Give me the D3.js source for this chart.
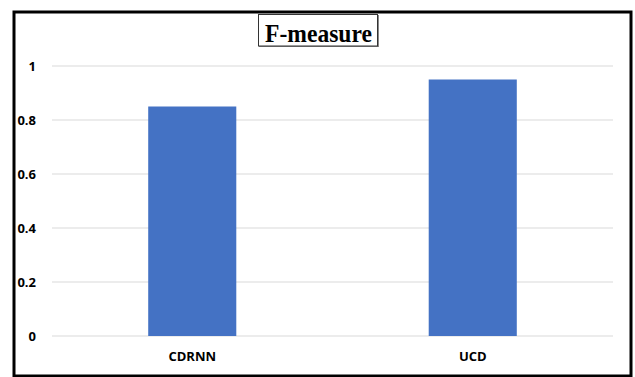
<!DOCTYPE html>
<html>
<head>
<meta charset="utf-8">
<script src="https://cdn.jsdelivr.net/npm/d3@7"></script>
<style>
  html, body { margin: 0; padding: 0; background: #fff; }
  svg { display: block; }
</style>
</head>
<body>
<svg id="chart" width="635" height="377"></svg>
<script>
// Chart data
const categories = ["CDRNN", "UCD"];
const values = [0.85, 0.95];
const yTicks = [0, 0.2, 0.4, 0.6, 0.8, 1];
const yTickLabels = ["0", "0.2", "0.4", "0.6", "0.8", "1"];
const title = "F-measure";

const svg = d3.select("#chart");

// Outer frame
svg.append("rect")
  .attr("x", 14).attr("y", 12)
  .attr("width", 617).attr("height", 364)
  .attr("fill", "#fff")
  .attr("stroke", "#000")
  .attr("stroke-width", 3);

const plot = { left: 52, right: 613, top: 66, bottom: 336 };

const x = d3.scaleBand()
  .domain(categories)
  .range([plot.left, plot.right])
  .paddingInner(0.686)
  .paddingOuter(0.343);

const y = d3.scaleLinear()
  .domain([0, 1])
  .range([plot.bottom, plot.top]);

// Horizontal gridlines
svg.append("g")
  .selectAll("line")
  .data(yTicks)
  .join("line")
  .attr("x1", plot.left).attr("x2", plot.right)
  .attr("y1", d => y(d)).attr("y2", d => y(d))
  .attr("stroke", "#d9d9d9")
  .attr("stroke-width", 1);

const labelFont = "'Open Sans', 'Liberation Sans', sans-serif";

// Y tick labels
const yAxis = d3.axisLeft(y)
  .tickValues(yTicks)
  .tickFormat((d, i) => yTickLabels[i])
  .tickSize(0)
  .tickPadding(0);
const gy = svg.append("g")
  .attr("transform", "translate(36,0)")
  .call(yAxis);
gy.select(".domain").remove();
gy.selectAll("text")
  .attr("font-family", labelFont)
  .attr("font-weight", "bold")
  .attr("font-size", "13px")
  .attr("fill", "#000");

// Bars
svg.append("g")
  .selectAll("rect")
  .data(categories.map((c, i) => ({ c, v: values[i] })))
  .join("rect")
  .attr("x", d => x(d.c))
  .attr("y", d => y(d.v))
  .attr("width", x.bandwidth())
  .attr("height", d => y(0) - y(d.v))
  .attr("fill", "#4472c4");

// X category labels
const xAxis = d3.axisBottom(x).tickSize(0).tickPadding(0);
const gx = svg.append("g")
  .attr("transform", "translate(0,361)")
  .call(xAxis);
gx.select(".domain").remove();
gx.selectAll("text")
  .attr("dy", 0)
  .attr("font-family", labelFont)
  .attr("font-weight", "bold")
  .attr("font-size", "13px")
  .attr("fill", "#000");

// Boxed title
const tg = svg.append("g");
tg.append("rect")
  .attr("x", 259).attr("y", 15)
  .attr("width", 120).attr("height", 32)
  .attr("fill", "#888");
tg.append("rect")
  .attr("x", 258.5).attr("y", 14.5)
  .attr("width", 119).attr("height", 31.5)
  .attr("fill", "#fff")
  .attr("stroke", "#333")
  .attr("stroke-width", 1);
tg.append("text")
  .attr("x", 318.5).attr("y", 42)
  .attr("text-anchor", "middle")
  .attr("font-family", "'Liberation Serif', 'Times New Roman', serif")
  .attr("font-weight", "bold")
  .attr("font-size", "25px")
  .attr("textLength", 107)
  .attr("lengthAdjust", "spacingAndGlyphs")
  .attr("fill", "#000")
  .text(title);
</script>
</body>
</html>
